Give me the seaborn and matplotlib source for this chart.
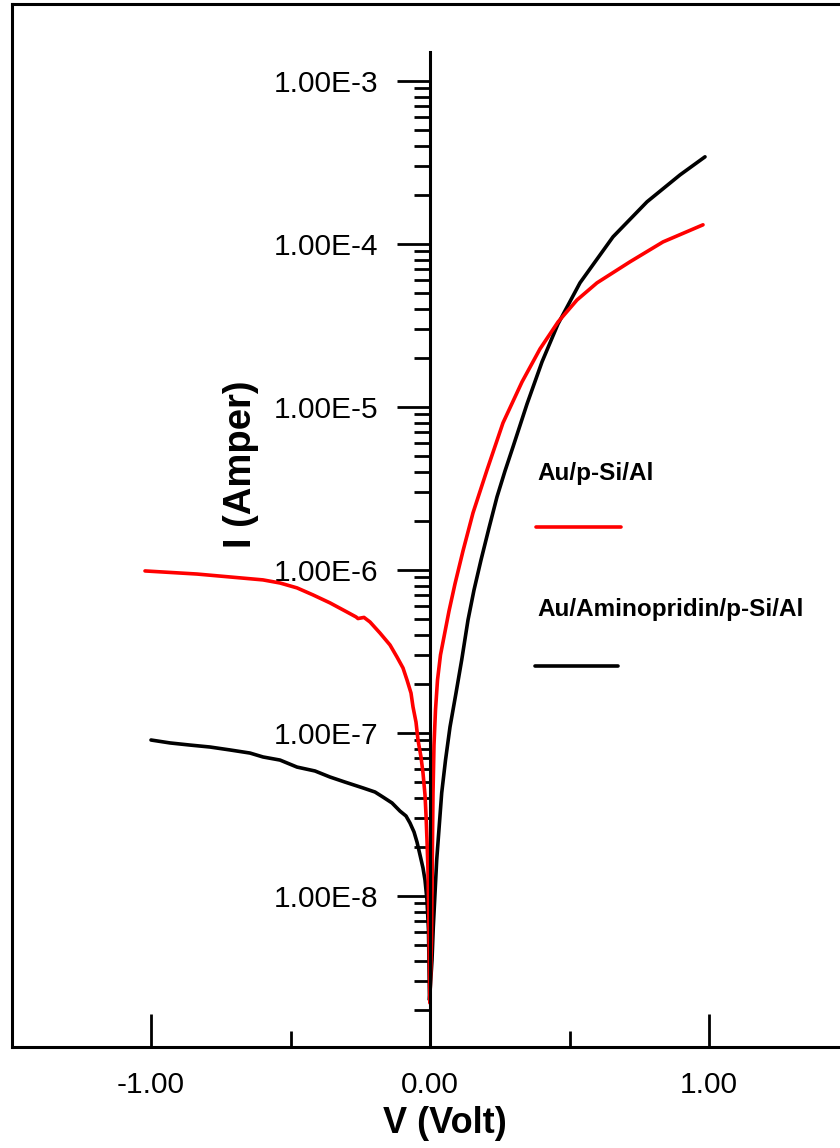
import numpy as np
import pandas as pd
import matplotlib
matplotlib.use("Agg")
import matplotlib.pyplot as plt
from matplotlib.ticker import FuncFormatter
from matplotlib.lines import Line2D
import seaborn as sns

# I-V data: V in volt, current as log10(I / A)
label_ref = "Au/p-Si/Al"
label_amino = "Au/Aminopridin/p-Si/Al"

v_ref = [-1.0215, -0.8351, -0.7168, -0.5986, -0.5376, -0.4767, -0.4194, -0.3584, -0.2975, -0.2652,
         -0.2581, -0.2366, -0.2151, -0.1792, -0.1434, -0.1183, -0.0968, -0.0824, -0.0681, -0.0609,
         -0.0502, -0.0430, -0.0323, -0.0251, -0.0179, -0.0143, -0.0108, -0.0072, -0.0036, -0.0005,
         0.0054, 0.0082, 0.0108, 0.0143, 0.0197, 0.0269, 0.0376, 0.0502, 0.0681, 0.0896,
         0.1183, 0.1541, 0.2043, 0.2616, 0.3297, 0.3943, 0.4588, 0.5269, 0.5986, 0.7168,
         0.8351, 0.9785]
logi_ref = [-6.006, -6.025, -6.043, -6.061, -6.080, -6.110, -6.153, -6.202, -6.258, -6.288,
            -6.298, -6.291, -6.319, -6.387, -6.460, -6.534, -6.601, -6.675, -6.755, -6.840,
            -6.933, -7.043, -7.147, -7.245, -7.380, -7.503, -7.656, -7.840, -8.209, -8.656,
            -8.270, -7.779, -7.368, -7.074, -6.859, -6.675, -6.521, -6.410, -6.252, -6.085,
            -5.883, -5.650, -5.387, -5.098, -4.847, -4.644, -4.479, -4.344, -4.239, -4.110,
            -3.988, -3.883]

v_amino = [-1.0000, -0.9319, -0.8602, -0.7885, -0.7168, -0.6452, -0.5986, -0.5376, -0.4767, -0.4122,
           -0.3584, -0.3047, -0.2401, -0.1971, -0.1685, -0.1362, -0.1075, -0.0860, -0.0717, -0.0573,
           -0.0466, -0.0358, -0.0251, -0.0179, -0.0108, -0.0054, -0.0018,
           0.0072, 0.0118, 0.0240, 0.0419, 0.0556, 0.0717, 0.0932, 0.1136, 0.1362, 0.1577,
           0.1828, 0.2115, 0.2401, 0.2688, 0.2975, 0.3477, 0.4014, 0.4588, 0.5376, 0.6559,
           0.7778, 0.8961, 0.9857]
logi_amino = [-7.043, -7.061, -7.074, -7.086, -7.104, -7.123, -7.147, -7.166, -7.209, -7.233,
              -7.270, -7.301, -7.337, -7.362, -7.393, -7.429, -7.479, -7.509, -7.552, -7.607,
              -7.669, -7.748, -7.828, -7.902, -8.025, -8.209, -8.638,
              -8.393, -8.190, -7.779, -7.368, -7.166, -6.963, -6.755, -6.552, -6.307, -6.123,
              -5.939, -5.742, -5.552, -5.393, -5.245, -4.982, -4.724, -4.491, -4.239, -3.957,
              -3.742, -3.577, -3.466]

x_major = [-1.0, 0.0, 1.0]
x_minor = [-1.5, -0.5, 0.5, 1.5]
y_major = [1e-8, 1e-7, 1e-6, 1e-5, 1e-4, 1e-3]

df = pd.DataFrame({
    "V": v_amino + v_ref,
    "I": np.power(10.0, logi_amino + logi_ref),
    "sample": [label_amino] * len(v_amino) + [label_ref] * len(v_ref),
})
colors = {label_ref: "red", label_amino: "black"}

sns.set_theme(style="ticks")
plt.rcParams["font.family"] = ["Liberation Sans", "DejaVu Sans"]

W, H = 840, 1148
fig = plt.figure(figsize=(W / 100, H / 100), dpi=100)
rect = [11.5 / W, 101 / H, 837 / W, 1043 / H]

# outer frame (top and left lines)
frame = fig.add_axes(rect)
frame.set_facecolor("none")
frame.set_xticks([])
frame.set_yticks([])
for s in ["right", "bottom"]:
    frame.spines[s].set_visible(False)
for s in ["top", "left"]:
    frame.spines[s].set_color("black")
    frame.spines[s].set_linewidth(2.2)

ax = fig.add_axes(rect)
ax.patch.set_visible(False)
sns.lineplot(data=df, x="V", y="I", hue="sample", hue_order=[label_amino, label_ref],
             palette=colors, sort=False, estimator=None, linewidth=2.6, legend=False, ax=ax)

ax.set_yscale("log")
ax.set_xlim(-1.5, 1.5)
ylo, yhi = 1.186e-9, 2.96e-3
ax.set_ylim(ylo, yhi)

minor_y = [k * 10.0 ** e for e in range(-9, -3) for k in range(2, 10)]
minor_y = [m for m in minor_y if ylo < m < 1e-3]
ax.set_yticks(y_major)
ax.set_yticks(minor_y, minor=True)
ax.yaxis.set_major_formatter(FuncFormatter(lambda v, p: "1.00E%d" % round(np.log10(v))))
ax.yaxis.set_minor_formatter(FuncFormatter(lambda v, p: ""))
ax.set_xticks(x_major)
ax.set_xticks(x_minor, minor=True)
ax.xaxis.set_major_formatter(FuncFormatter(lambda v, p: "%.2f" % v))

ax.spines["top"].set_visible(False)
ax.spines["right"].set_visible(False)
ax.spines["left"].set_position(("data", 0))
ax.spines["left"].set_bounds(ylo, 1.51e-3)
for s in ["left", "bottom"]:
    ax.spines[s].set_color("black")
    ax.spines[s].set_linewidth(2.2)

ax.tick_params(axis="y", which="major", direction="out", length=23.6, width=2.0, pad=13.5,
               labelsize=21.5, color="black", labelcolor="black")
ax.tick_params(axis="y", which="minor", direction="out", length=11.5, width=2.0, color="black")
ax.tick_params(axis="x", which="major", direction="in", length=23.6, width=2.0, pad=17,
               labelsize=21.5, color="black", labelcolor="black")
ax.tick_params(axis="x", which="minor", direction="in", length=11.5, width=2.0, color="black")
ax.tick_params(top=False, right=False, which="both")

ax.set_xlabel("V (Volt)", fontsize=26, fontweight="bold", color="black")
ax.xaxis.set_label_coords(0.518, -0.057)
ax.set_ylabel("I (Amper)", fontsize=27.5, fontweight="bold", color="black")
ax.yaxis.set_label_coords(0.296, 0.559)

# legend: text above a short line sample
ax.text(0.628, 0.5494, label_ref, transform=ax.transAxes, fontsize=17.5, fontweight="bold",
        va="center", ha="left", color="black")
ax.add_line(Line2D([0.6266, 0.7282], [0.4986, 0.4986], transform=ax.transAxes, color="red", linewidth=2.6))
ax.text(0.628, 0.419, label_amino, transform=ax.transAxes, fontsize=17.5, fontweight="bold",
        va="center", ha="left", color="black")
ax.add_line(Line2D([0.6254, 0.7246], [0.3653, 0.3653], transform=ax.transAxes, color="black", linewidth=2.6))

fig.savefig("out.png", dpi=100)
